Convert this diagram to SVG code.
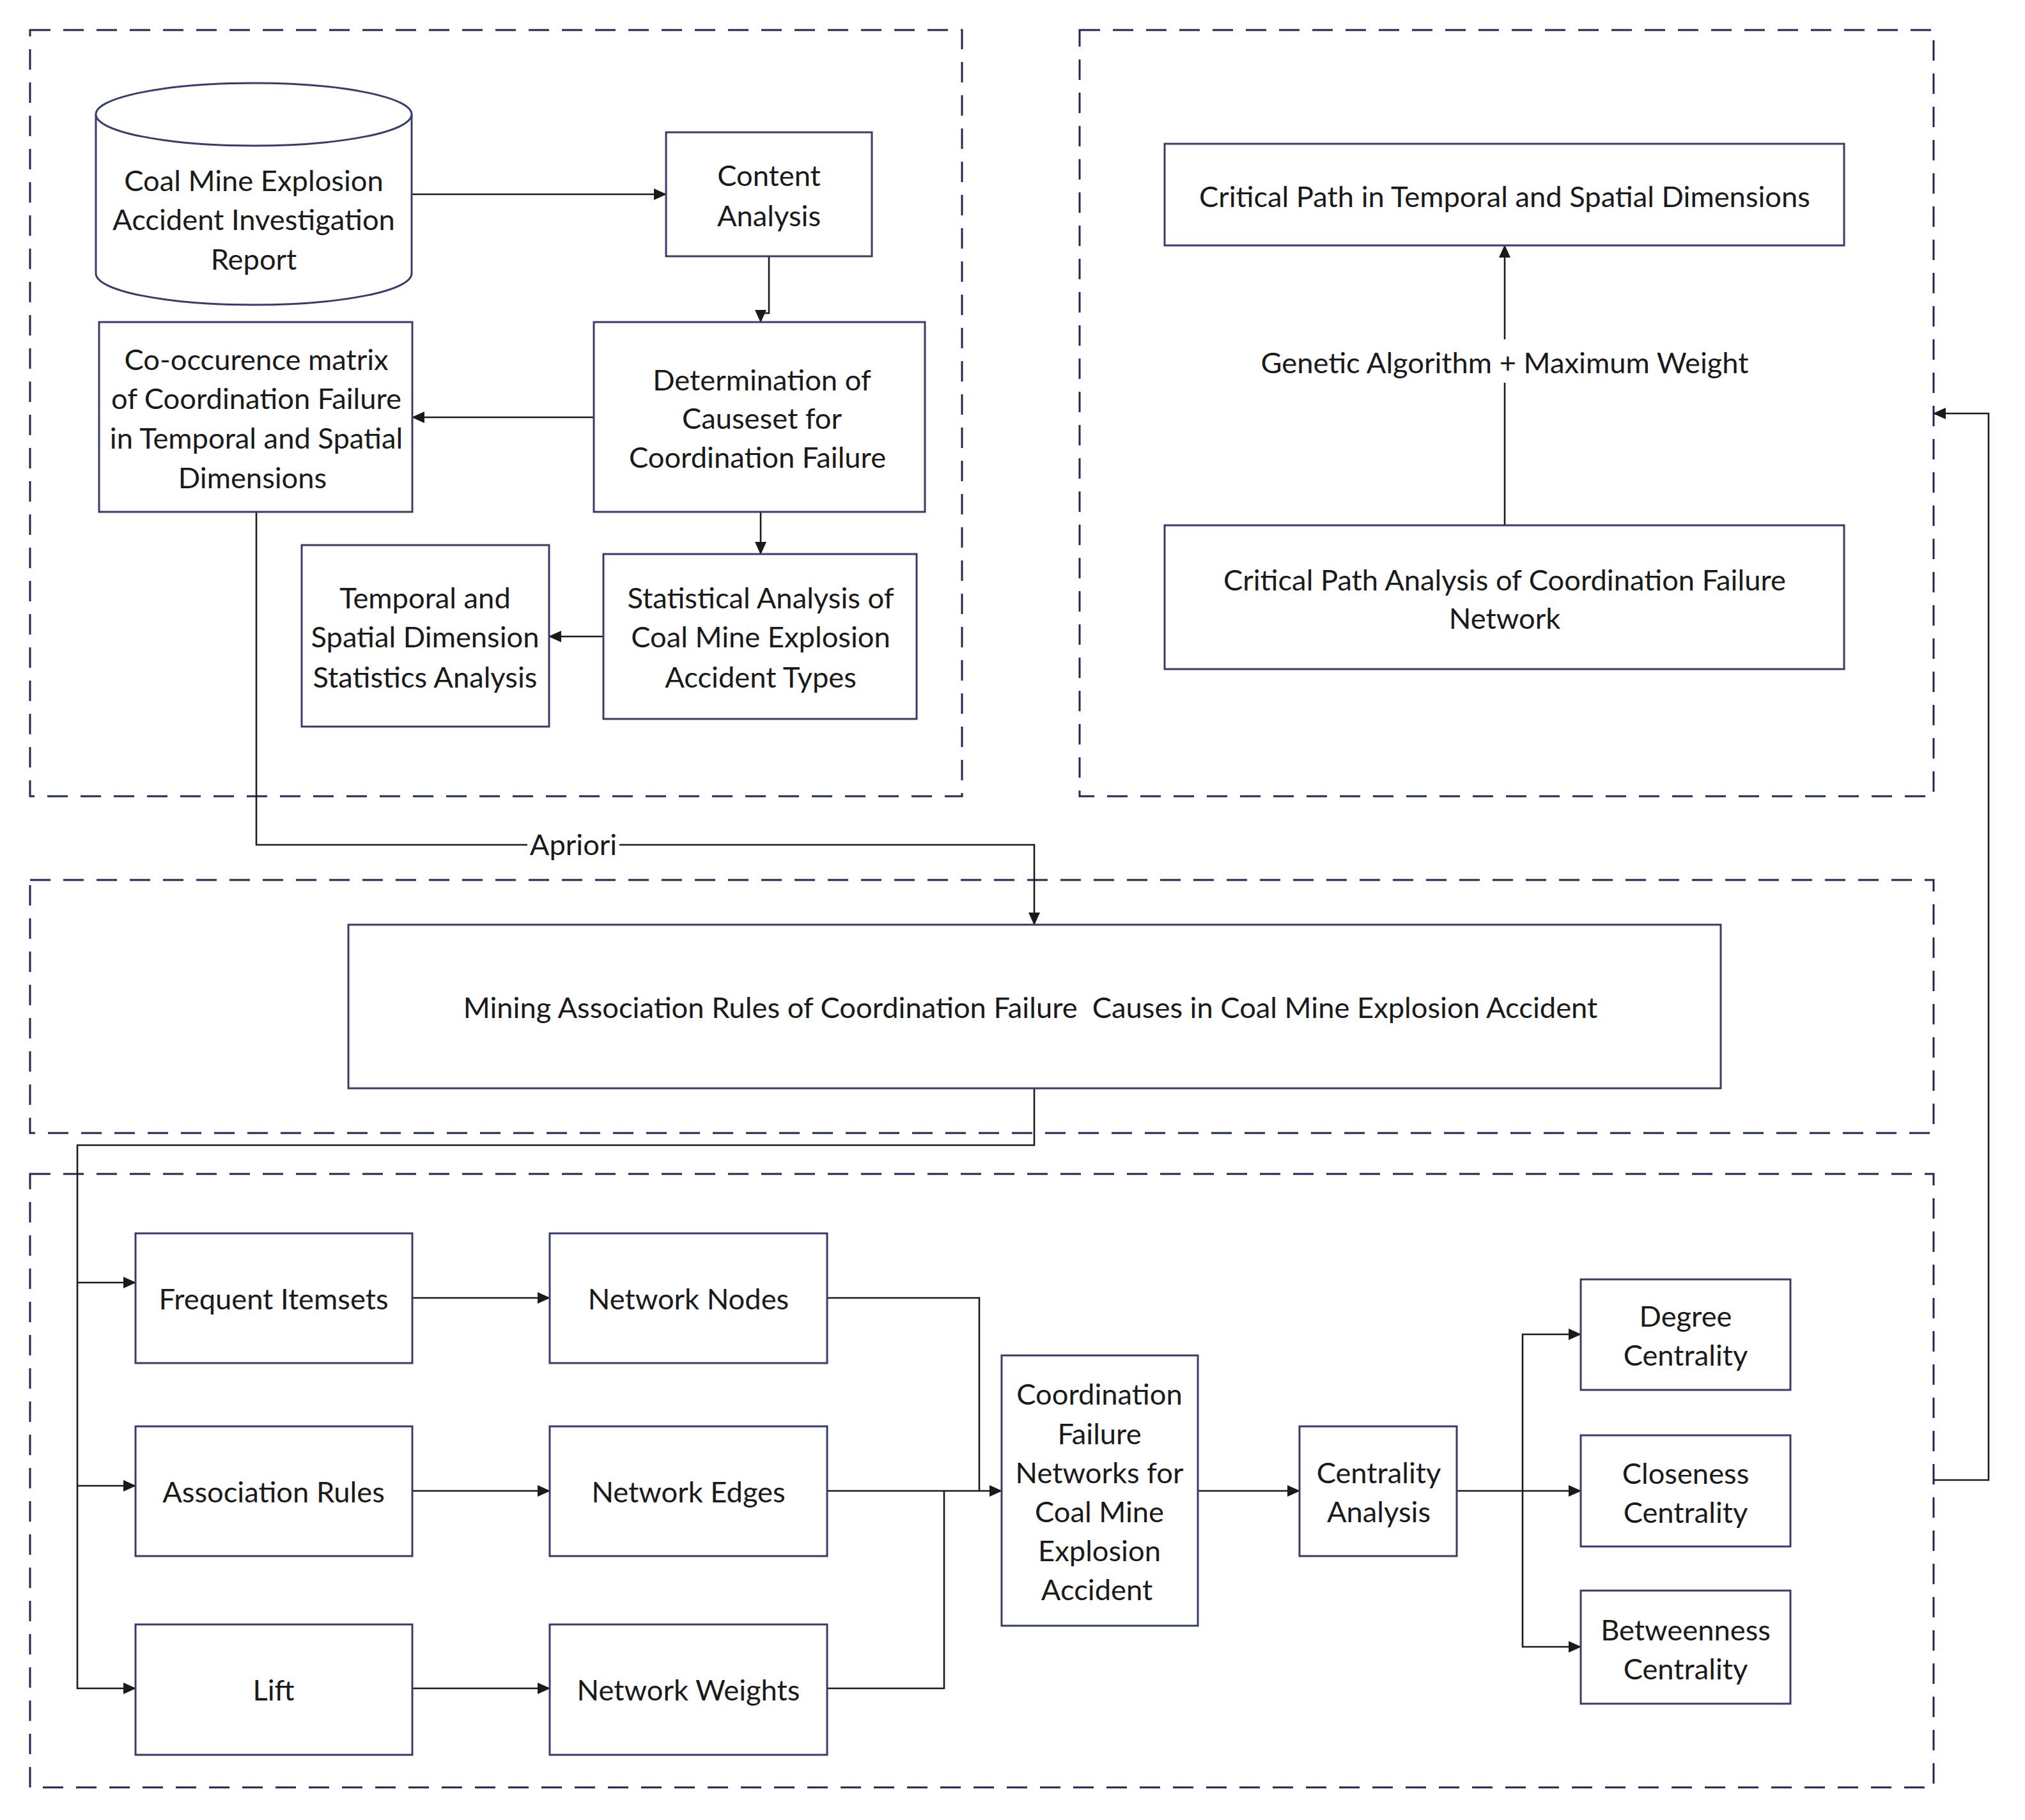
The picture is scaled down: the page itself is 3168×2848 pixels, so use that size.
<svg xmlns="http://www.w3.org/2000/svg" width="3168" height="2848" viewBox="0 0 3168 2848">
<style>
.grp{fill:none;stroke:#1f2754;stroke-width:3;stroke-dasharray:32 20}
.box{fill:#ffffff;stroke:#363d6a;stroke-width:3}
.con{fill:none;stroke:#1a1a1a;stroke-width:2.6}
.t{font-family:Lato,"Open Sans","Noto Sans",sans-serif;font-size:45.3px;fill:#1a1a1a;text-anchor:middle}
</style>
<defs>
<marker id="ah" markerUnits="userSpaceOnUse" markerWidth="20" markerHeight="20" viewBox="0 0 20 20" refX="19" refY="10" orient="auto">
<path d="M0,1 L20,10 L0,19 Z" fill="#1a1a1a"/>
</marker>
</defs>
<rect width="3168" height="2848" fill="#ffffff"/>
<g id="groups">
<rect class="grp" x="47" y="47" width="1458" height="1199"/>
<rect class="grp" x="1689" y="47" width="1336" height="1199"/>
<rect class="grp" x="47" y="1377" width="2978" height="396"/>
<rect class="grp" x="47" y="1837" width="2978" height="960"/>
</g>
<g id="connectors">
<path class="con" d="M644,304 H1042" marker-end="url(#ah)"/>
<path class="con" d="M1203,401 V490 H1190 V504" marker-end="url(#ah)"/>
<path class="con" d="M929,653 H645" marker-end="url(#ah)"/>
<path class="con" d="M1190,801 V867" marker-end="url(#ah)"/>
<path class="con" d="M944,996 H859" marker-end="url(#ah)"/>
<path class="con" d="M401,801 V1322 H1618 V1447" marker-end="url(#ah)"/>
<path class="con" d="M1618,1703 V1792 H121 V2642 H212" marker-end="url(#ah)"/>
<path class="con" d="M121,2007 H212" marker-end="url(#ah)"/>
<path class="con" d="M121,2325 H212" marker-end="url(#ah)"/>
<path class="con" d="M645,2031 H860" marker-end="url(#ah)"/>
<path class="con" d="M645,2333 H860" marker-end="url(#ah)"/>
<path class="con" d="M645,2642 H860" marker-end="url(#ah)"/>
<path class="con" d="M1294,2031 H1532 V2333"/>
<path class="con" d="M1294,2642 H1477 V2333"/>
<path class="con" d="M1294,2333 H1567" marker-end="url(#ah)"/>
<path class="con" d="M1874,2333 H2033" marker-end="url(#ah)"/>
<path class="con" d="M2279,2333 H2473" marker-end="url(#ah)"/>
<path class="con" d="M2382,2333 V2088 H2473" marker-end="url(#ah)"/>
<path class="con" d="M2382,2333 V2577 H2473" marker-end="url(#ah)"/>
<path class="con" d="M3025,2316 H3111 V647 H3025" marker-end="url(#ah)"/>
<path class="con" d="M2354,822 V599"/>
<path class="con" d="M2354,531 V384" marker-end="url(#ah)"/>
<rect x="825" y="1300" width="144" height="44" fill="#ffffff"/>
<text class="t" x="897" y="1338">Apriori</text>
<text class="t" x="2354" y="584">Genetic Algorithm + Maximum Weight</text>
</g>
<g id="report">
<path class="box" d="M150,179 V428 A247,49 0 0 0 644,428 V179"/>
<ellipse class="box" cx="397" cy="179" rx="247" ry="49"/>
<text class="t" x="397" y="299">Coal Mine Explosion</text>
<text class="t" x="397" y="360">Accident Investigation</text>
<text class="t" x="397" y="422">Report</text>
</g>
<g id="content">
<rect class="box" x="1042" y="207" width="322" height="194"/>
<text class="t" x="1203" y="291">Content</text>
<text class="t" x="1203" y="354">Analysis</text>
</g>
<g id="determination">
<rect class="box" x="929" y="504" width="518" height="297"/>
<text class="t" x="1192" y="611">Determination of</text>
<text class="t" x="1192" y="671">Causeset for</text>
<text class="t" x="1185" y="732">Coordination Failure</text>
</g>
<g id="cooccurrence">
<rect class="box" x="155" y="504" width="490" height="297"/>
<text class="t" x="401" y="579">Co-occurence matrix</text>
<text class="t" x="401" y="640">of Coordination Failure</text>
<text class="t" x="401" y="702">in Temporal and Spatial</text>
<text class="t" x="395" y="764">Dimensions</text>
</g>
<g id="statistical">
<rect class="box" x="944" y="867" width="490" height="258"/>
<text class="t" x="1190" y="952">Statistical Analysis of</text>
<text class="t" x="1190" y="1013">Coal Mine Explosion</text>
<text class="t" x="1190" y="1076">Accident Types</text>
</g>
<g id="temporal">
<rect class="box" x="472" y="853" width="387" height="284"/>
<text class="t" x="665" y="952">Temporal and</text>
<text class="t" x="665" y="1013">Spatial Dimension</text>
<text class="t" x="665" y="1076">Statistics Analysis</text>
</g>
<g id="criticalpath">
<rect class="box" x="1822" y="225" width="1063" height="159"/>
<text class="t" x="2354" y="324">Critical Path in Temporal and Spatial Dimensions</text>
</g>
<g id="criticalanalysis">
<rect class="box" x="1822" y="822" width="1063" height="225"/>
<text class="t" x="2354" y="924">Critical Path Analysis of Coordination Failure</text>
<text class="t" x="2354" y="984">Network</text>
</g>
<g id="mining">
<rect class="box" x="545" y="1447" width="2147" height="256"/>
<text class="t" x="1612" y="1593" xml:space="preserve">Mining Association Rules of Coordination Failure  Causes in Coal Mine Explosion Accident</text>
</g>
<g id="frequent">
<rect class="box" x="212" y="1930" width="433" height="203"/>
<text class="t" x="428" y="2049">Frequent Itemsets</text>
</g>
<g id="association">
<rect class="box" x="212" y="2232" width="433" height="203"/>
<text class="t" x="428" y="2351">Association Rules</text>
</g>
<g id="lift">
<rect class="box" x="212" y="2542" width="433" height="204"/>
<text class="t" x="428" y="2661">Lift</text>
</g>
<g id="nodes">
<rect class="box" x="860" y="1930" width="434" height="203"/>
<text class="t" x="1077" y="2049">Network Nodes</text>
</g>
<g id="edges">
<rect class="box" x="860" y="2232" width="434" height="203"/>
<text class="t" x="1077" y="2351">Network Edges</text>
</g>
<g id="weights">
<rect class="box" x="860" y="2542" width="434" height="204"/>
<text class="t" x="1077" y="2661">Network Weights</text>
</g>
<g id="network">
<rect class="box" x="1567" y="2121" width="307" height="423"/>
<text class="t" x="1720" y="2198">Coordination</text>
<text class="t" x="1720" y="2260">Failure</text>
<text class="t" x="1720" y="2321">Networks for</text>
<text class="t" x="1720" y="2382">Coal Mine</text>
<text class="t" x="1720" y="2443">Explosion</text>
<text class="t" x="1716" y="2504">Accident</text>
</g>
<g id="centrality">
<rect class="box" x="2033" y="2232" width="246" height="203"/>
<text class="t" x="2157" y="2321">Centrality</text>
<text class="t" x="2157" y="2382">Analysis</text>
</g>
<g id="degree">
<rect class="box" x="2473" y="2002" width="328" height="173"/>
<text class="t" x="2637" y="2076">Degree</text>
<text class="t" x="2637" y="2137">Centrality</text>
</g>
<g id="closeness">
<rect class="box" x="2473" y="2246" width="328" height="174"/>
<text class="t" x="2637" y="2322">Closeness</text>
<text class="t" x="2637" y="2383">Centrality</text>
</g>
<g id="betweenness">
<rect class="box" x="2473" y="2489" width="328" height="177"/>
<text class="t" x="2637" y="2567">Betweenness</text>
<text class="t" x="2637" y="2628">Centrality</text>
</g>
</svg>
